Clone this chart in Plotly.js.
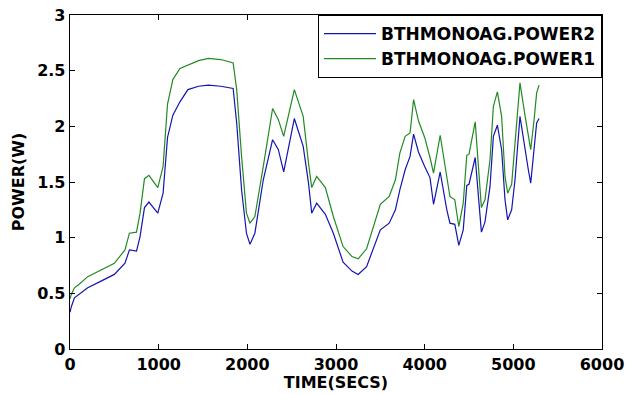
<!DOCTYPE html>
<html>
<head>
<meta charset="utf-8">
<script src="https://cdn.plot.ly/plotly-3.0.1.min.js"></script>
<style>html,body{margin:0;padding:0;background:#fff;}#chart{width:627px;height:394px;}</style>
</head>
<body>
<div id="chart"></div>
<script>
// Time (seconds)
var timeSecs = [0, 15, 50, 100, 200, 350, 500, 620, 670, 750, 790, 840, 890, 990, 1050, 1100, 1160, 1240, 1330, 1450, 1560, 1700, 1840, 1880, 1935, 1990, 2030, 2085, 2180, 2285, 2350, 2410, 2530, 2630, 2690, 2726, 2782, 2880, 2970, 3080, 3180, 3250, 3345, 3500, 3600, 3670, 3720, 3780, 3835, 3875, 3930, 4000, 4060, 4100, 4175, 4250, 4285, 4340, 4385, 4435, 4475, 4500, 4570, 4640, 4680, 4737, 4775, 4820, 4868, 4906, 4936, 4981, 5019, 5075, 5131, 5169, 5196, 5233, 5263, 5290];
// BTHMONOAG.POWER2 (blue)
var power2 = [0.33, 0.38, 0.46, 0.49, 0.55, 0.61, 0.67, 0.77, 0.89, 0.88, 1.01, 1.27, 1.32, 1.22, 1.40, 1.90, 2.10, 2.22, 2.33, 2.36, 2.37, 2.36, 2.34, 2.03, 1.43, 1.04, 0.94, 1.04, 1.52, 1.88, 1.79, 1.59, 2.07, 1.82, 1.49, 1.22, 1.31, 1.21, 1.04, 0.78, 0.70, 0.67, 0.74, 1.07, 1.13, 1.25, 1.43, 1.61, 1.73, 1.93, 1.77, 1.64, 1.54, 1.30, 1.59, 1.25, 1.13, 1.12, 0.93, 1.07, 1.47, 1.48, 1.72, 1.05, 1.14, 1.46, 1.91, 2.01, 1.79, 1.34, 1.16, 1.25, 1.52, 2.09, 1.79, 1.61, 1.49, 1.76, 2.03, 2.07];
// BTHMONOAG.POWER1 (green)
var power1 = [0.45, 0.49, 0.55, 0.58, 0.65, 0.71, 0.77, 0.89, 1.04, 1.05, 1.22, 1.53, 1.56, 1.45, 1.64, 2.20, 2.42, 2.52, 2.55, 2.59, 2.61, 2.60, 2.57, 2.33, 1.73, 1.22, 1.13, 1.19, 1.64, 2.16, 2.06, 1.91, 2.33, 2.09, 1.67, 1.45, 1.55, 1.45, 1.19, 0.92, 0.83, 0.81, 0.90, 1.30, 1.37, 1.52, 1.76, 1.91, 1.94, 2.24, 2.05, 1.90, 1.72, 1.58, 1.92, 1.55, 1.37, 1.34, 1.10, 1.31, 1.74, 1.75, 2.04, 1.27, 1.34, 1.70, 2.18, 2.31, 2.09, 1.55, 1.40, 1.48, 1.85, 2.39, 2.10, 1.90, 1.79, 2.05, 2.30, 2.37];
var seriesNames = ['BTHMONOAG.POWER2', 'BTHMONOAG.POWER1'];
var xTicks = [0, 1000, 2000, 3000, 4000, 5000, 6000];
var yTicks = [0, 0.5, 1, 1.5, 2, 2.5, 3];

var fnt = {family: 'DejaVu Sans, Arial, sans-serif', size: 16, color: '#000', weight: 'bold'};

var traces = [
  {x: timeSecs, y: power2, name: seriesNames[0], type: 'scatter', mode: 'lines', legendgroup: 'a',
   line: {color: '#1414b0', width: 1.2}},
  {x: timeSecs, y: power1, name: seriesNames[1], type: 'scatter', mode: 'lines', legendgroup: 'b',
   line: {color: '#228a22', width: 1.2}}
];

var axisCommon = {
  showline: true, linecolor: '#000', linewidth: 1.3, mirror: 'allticks',
  ticks: 'inside', ticklen: 5, tickcolor: '#000', tickwidth: 1,
  showgrid: false, zeroline: false, tickfont: fnt
};

var layout = {
  width: 627, height: 394,
  margin: {l: 70, r: 25, t: 15, b: 45},
  paper_bgcolor: '#fff', plot_bgcolor: '#fff',
  showlegend: true,
  legend: {x: 1, xanchor: 'right', y: 1, yanchor: 'top', bgcolor: '#fff',
           bordercolor: '#000', borderwidth: 1, tracegroupgap: 0, itemwidth: 52,
           font: {family: 'DejaVu Sans, Arial, sans-serif', size: 17, color: '#000', weight: 'bold'}},
  xaxis: Object.assign({}, axisCommon, {range: [0, 6000], tickvals: xTicks,
    title: {text: 'TIME(SECS)', font: fnt, standoff: 4}}),
  yaxis: Object.assign({}, axisCommon, {range: [0, 3], tickvals: yTicks,
    title: {text: 'POWER(W)', font: fnt, standoff: 8}})
};

Plotly.newPlot('chart', traces, layout, {displayModeBar: false, staticPlot: true});
</script>
</body>
</html>
